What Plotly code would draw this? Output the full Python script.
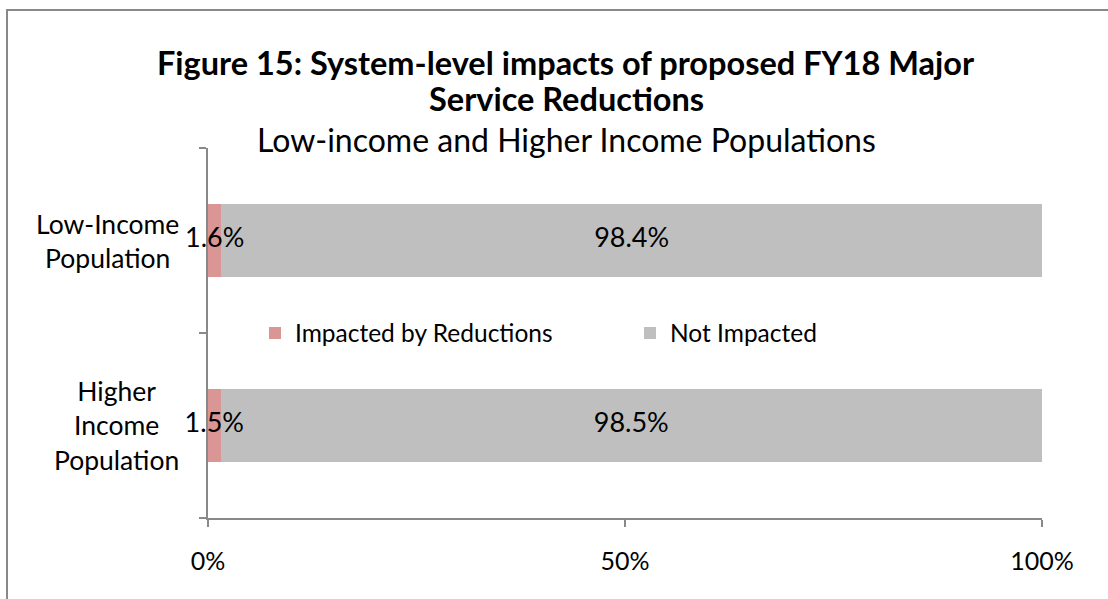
import plotly.graph_objects as go

categories = ["Low-Income Population", "Higher Income Population"]
category_labels = ["Low-Income<br>Population", "Higher<br>Income<br>Population"]
impacted = [1.6, 1.5]
not_impacted = [98.4, 98.5]
series_names = ["Impacted by Reductions", "Not Impacted"]
x_ticks = [0, 50, 100]
x_tick_labels = ["0%", "50%", "100%"]

PINK = "#DA9694"
GRAY = "#BFBFBF"
AXIS = "#898989"
FONT = "Lato"

fig = go.Figure()
fig.add_trace(go.Bar(y=categories, x=impacted, orientation="h", name=series_names[0],
                     marker=dict(color=PINK, line=dict(width=0)), hoverinfo="skip"))
fig.add_trace(go.Bar(y=categories, x=not_impacted, orientation="h", name=series_names[1],
                     marker=dict(color=GRAY, line=dict(width=0)), hoverinfo="skip"))

# data labels centred in each segment
for vals, base in [(impacted, [0, 0]), (not_impacted, impacted)]:
    fig.add_trace(go.Scatter(
        y=categories, x=[b + v / 2 for b, v in zip(base, vals)],
        mode="text", text=[f"{v:.1f}%" for v in vals],
        textfont=dict(family=FONT, size=27, color="black"),
        showlegend=False, hoverinfo="skip", cliponaxis=False))

L, R, T, B = 208, 66, 148, 81
W, H = 1108, 599
pw, ph = W - L - R, H - T - B

def px_x(x):
    return (x - L) / pw

def px_y(y):
    return (H - B - y) / ph

annotations = [
    dict(text="<b>Figure 15: System-level impacts of proposed FY18 Major</b>", x=px_x(566), y=px_y(63),
         font=dict(size=32.5, family=FONT, color="black")),
    dict(text="<b>Service Reductions</b>", x=px_x(566), y=px_y(98),
         font=dict(size=32.5, family=FONT, color="black")),
    dict(text="Low-income and Higher Income Populations", x=px_x(566), y=px_y(139),
         font=dict(size=32, family=FONT, color="black")),
]
for a in annotations:
    a.update(xref="paper", yref="paper", xanchor="center", yanchor="middle", showarrow=False)

for cat, lab in zip(categories, category_labels):
    annotations.append(dict(text=lab, x=px_x(181), y=cat, xref="paper", yref="y",
                            xanchor="right", yanchor="middle", align="center", showarrow=False,
                            font=dict(size=26.5, family=FONT, color="black")))

fig.update_layout(
    width=W, height=H,
    margin=dict(l=L, r=R, t=T, b=B),
    barmode="stack", bargap=0.605,
    paper_bgcolor="white", plot_bgcolor="white",
    font=dict(family=FONT, size=24, color="black"),
    showlegend=True,
    legend=dict(orientation="h", x=px_x(630), y=px_y(333), xanchor="center", yanchor="middle",
                font=dict(size=24.5, family=FONT, color="black"), bgcolor="rgba(0,0,0,0)",
                entrywidth=330, entrywidthmode="pixels", itemwidth=30, traceorder="normal"),
    annotations=annotations,
    shapes=[dict(type="rect", xref="paper", yref="paper", x0=px_x(7), x1=px_x(1130),
                 y0=px_y(640), y1=px_y(10), line=dict(color=AXIS, width=2), layer="below")],
    hovermode=False,
)
fig.update_xaxes(range=[0, 100], tickvals=x_ticks, ticktext=x_tick_labels,
                 showline=True, linecolor=AXIS, linewidth=2, showgrid=False, zeroline=False,
                 ticks="outside", ticklen=7, tickwidth=2, tickcolor=AXIS,
                 ticklabelstandoff=13, tickfont=dict(size=25, family=FONT, color="black"))
fig.update_yaxes(categoryorder="array", categoryarray=categories[::-1],
                 showline=True, linecolor=AXIS, linewidth=2, showgrid=False, zeroline=False,
                 ticks="outside", ticklen=7, tickwidth=2, tickcolor=AXIS, tickson="boundaries",
                 showticklabels=False)

fig.write_html("out.html")
